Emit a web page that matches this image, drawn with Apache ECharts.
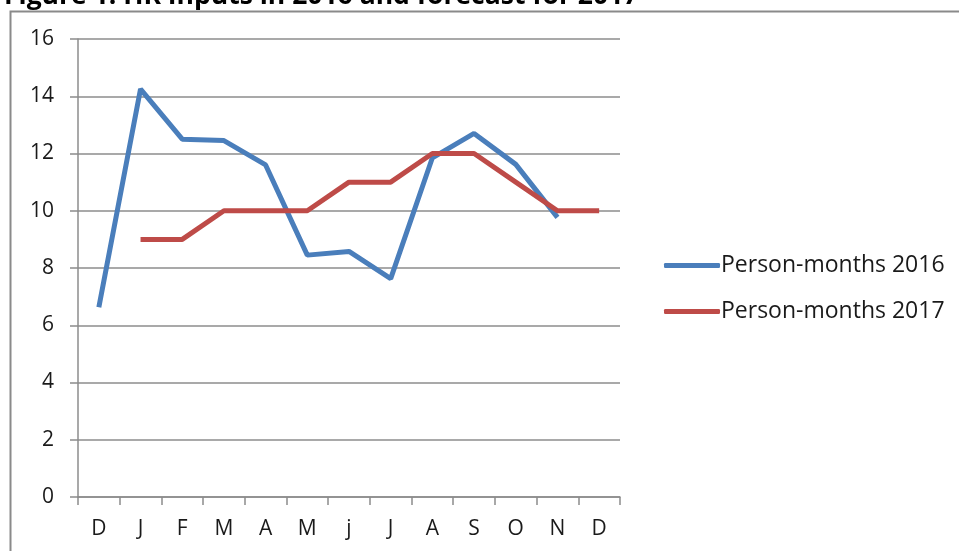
<!DOCTYPE html>
<html>
<head>
<meta charset="utf-8">
<script src="https://cdn.jsdelivr.net/npm/echarts@6/dist/echarts.min.js"></script>
<style>
  html, body { margin: 0; padding: 0; background: #fff; }
  #main { width: 959px; height: 551px; }
</style>
</head>
<body>
<div id="main"></div>
<script>
// Chart data
const months = ['D', 'J', 'F', 'M', 'A', 'M', 'j', 'J', 'A', 'S', 'O', 'N', 'D'];
const personMonths2016 = [6.63, 14.25, 12.5, 12.45, 11.6, 8.45, 8.58, 7.63, 11.85, 12.7, 11.62, 9.77, null];
const personMonths2017 = [null, 9, 9, 10, 10, 10, 11, 11, 12, 12, 11, 10, 10];
const yTicks = { min: 0, max: 16, interval: 2 };

const myChart = echarts.init(document.getElementById('main'));
const font = 'Open Sans';
const gray = '#8c8c8c';

let option = {
    animation: false,
    title: {
        text: 'Figure 1: HR Inputs in 2016 and forecast for 2017',
        left: -1,
        top: -22,
        textStyle: { fontFamily: font, fontWeight: 'bold', fontSize: 26.5, color: '#000' }
    },
    graphic: [
        {
            type: 'rect',
            shape: { x: 10.5, y: 11.5, width: 1000, height: 600 },
            style: { fill: null, stroke: '#8a8a8a', lineWidth: 2 },
            silent: true
        }
    ],
    grid: { left: 78, right: 339, top: 39, bottom: 54 },
    legend: {
        orient: 'vertical',
        left: 659,
        top: 249,
        icon: 'roundRect',
        itemWidth: 56,
        itemHeight: 5,
        itemGap: 23,
        textStyle: { fontFamily: font, fontSize: 23, color: '#1a1a1a', padding: [0, 0, 0, -4] },
        data: ['Person-months 2016', 'Person-months 2017']
    },
    xAxis: {
        type: 'category',
        data: months,
        boundaryGap: true,
        axisLine: { lineStyle: { color: gray, width: 1.5 } },
        axisTick: { show: true, interval: 0, length: 8, lineStyle: { color: gray, width: 1.5 } },
        axisLabel: { interval: 0, margin: 22, fontFamily: font, fontSize: 21, color: '#1a1a1a' }
    },
    yAxis: {
        type: 'value',
        min: yTicks.min,
        max: yTicks.max,
        interval: yTicks.interval,
        axisLine: { show: true, lineStyle: { color: gray, width: 1.5 } },
        axisTick: { show: true, length: 8, lineStyle: { color: gray, width: 1.5 } },
        axisLabel: { margin: 24, fontFamily: font, fontSize: 21, color: '#1a1a1a' },
        splitLine: { lineStyle: { color: gray, width: 1.5 } }
    },
    series: [
        {
            name: 'Person-months 2016',
            type: 'line',
            data: personMonths2016,
            symbol: 'none',
            color: '#4a7ebb',
            lineStyle: { width: 5, color: '#4a7ebb' }
        },
        {
            name: 'Person-months 2017',
            type: 'line',
            data: personMonths2017,
            symbol: 'none',
            color: '#be4b48',
            lineStyle: { width: 5, color: '#be4b48' }
        }
    ]
};

option && myChart.setOption(option);
</script>
</body>
</html>
